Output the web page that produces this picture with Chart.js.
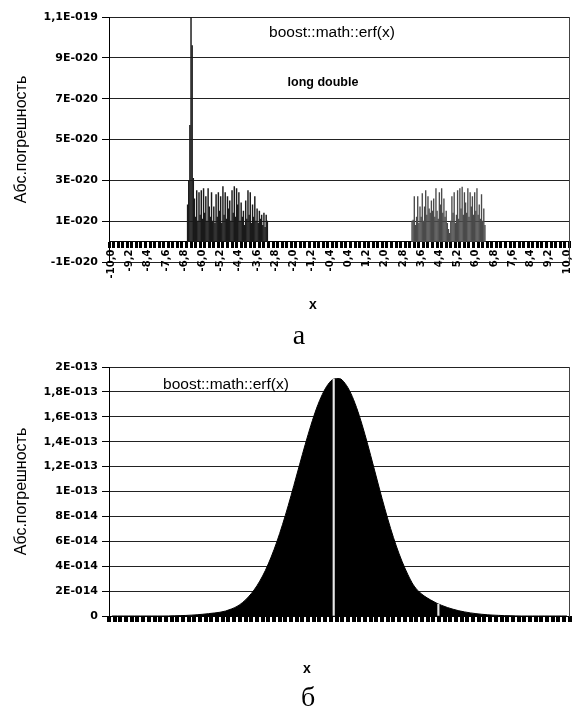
<!DOCTYPE html>
<html><head><meta charset="utf-8">
<script src="https://cdn.jsdelivr.net/npm/chart.js@4"></script>
<style>
html,body{margin:0;padding:0;background:#fff;}
body{width:581px;height:706px;position:relative;overflow:hidden;}
canvas{position:absolute;left:0;}
.t{position:absolute;white-space:nowrap;color:#000;transform:translateX(-50%);line-height:1;}
</style></head><body>
<canvas id="c1" width="581" height="330" style="top:0px"></canvas>
<canvas id="c2" width="581" height="356" style="top:350px"></canvas>
<div class="t" style="left:332px;top:23px;font:15.5px 'Liberation Sans'">boost::math::erf(x)</div>
<div class="t" style="left:323px;top:75px;font:bold 12.5px 'Liberation Sans'">long double</div>
<div class="t" style="left:313px;top:296px;font:bold 14px 'Liberation Sans'">x</div>
<div class="t" style="left:299px;top:319px;font:28px 'Liberation Serif'">а</div>
<div class="t" style="left:226px;top:375px;font:15.5px 'Liberation Sans'">boost::math::erf(x)</div>
<div class="t" style="left:307px;top:660px;font:bold 14px 'Liberation Sans'">x</div>
<div class="t" style="left:308px;top:681px;font:28px 'Liberation Serif'">б</div>
<script>
// ---------- Chart (а): long double, values in units of 1E-020 ----------
const topXTickLabels = ['-10,0','-9,2','-8,4','-7,6','-6,8','-6,0','-5,2','-4,4','-3,6','-2,8','-2,0','-1,2','-0,4','0,4','1,2','2,0','2,8','3,6','4,4','5,2','6,0','6,8','7,6','8,4','9,2','10,0'];
const topYTickLabels = ['-1E-020','1E-020','3E-020','5E-020','7E-020','9E-020','1,1E-019'];
const leftX = [-6.65,-6.60,-6.55,-6.50,-6.45,-6.40,-6.35,-6.30,-6.25,-6.20,-6.15,-6.10,-6.05,-6.00,-5.95,-5.90,-5.85,-5.80,-5.75,-5.70,-5.65,-5.60,-5.55,-5.50,-5.45,-5.40,-5.35,-5.30,-5.25,-5.20,-5.15,-5.10,-5.05,-5.00,-4.95,-4.90,-4.85,-4.80,-4.75,-4.70,-4.65,-4.60,-4.55,-4.50,-4.45,-4.40,-4.35,-4.30,-4.25,-4.20,-4.15,-4.10,-4.05,-4.00,-3.95,-3.90,-3.85,-3.80,-3.75,-3.70,-3.65,-3.60,-3.55,-3.50,-3.45,-3.40,-3.35,-3.30,-3.25,-3.20,-3.15];
const leftErr = [1.8,3.0,5.7,11.0,9.6,3.1,2.1,1.2,2.5,1.0,
  2.4,1.3,2.5,1.1,2.6,1.4,2.2,1.0,2.6,1.7,
  1.2,2.4,1.0,1.7,0.9,2.3,1.2,2.4,1.5,2.2,
  0.9,2.7,1.3,2.4,1.1,2.2,1.6,2.0,1.0,2.5,
  1.4,2.7,1.2,2.6,1.8,2.4,1.0,1.9,1.2,1.5,
  0.8,2.0,1.1,2.5,1.3,2.4,0.9,1.8,1.2,2.2,
  1.0,1.6,0.9,1.5,1.1,1.3,0.8,1.4,0.7,1.3,
  1.0];
const rightX = [3.20,3.25,3.30,3.35,3.40,3.45,3.50,3.55,3.60,3.65,3.70,3.75,3.80,3.85,3.90,3.95,4.00,4.05,4.10,4.15,4.20,4.25,4.30,4.35,4.40,4.45,4.50,4.55,4.60,4.65,4.70,4.75,4.80,4.85,4.90,4.95,5.00,5.05,5.10,5.15,5.20,5.25,5.30,5.35,5.40,5.45,5.50,5.55,5.60,5.65,5.70,5.75,5.80,5.85,5.90,5.95,6.00,6.05,6.10,6.15,6.20,6.25,6.30,6.35,6.40];
const rightErr = [1.0,1.05,2.2,0.8,1.2,2.2,0.9,1.7,1.2,2.35,
  1.0,1.7,2.5,1.3,2.2,1.6,1.4,2.0,1.5,2.1,
  1.2,2.6,1.5,1.1,2.4,1.8,2.6,1.4,2.1,1.2,
  1.5,0.9,0.6,0.4,1.0,2.2,1.4,2.4,0.9,1.3,
  2.5,1.1,2.6,1.6,2.67,1.3,2.4,1.9,1.4,2.6,
  1.2,2.4,1.7,2.2,1.3,2.4,1.5,2.6,1.3,1.8,
  1.1,2.3,1.0,1.6,0.8];

// ---------- Chart (б): values in units of 1E-014 ----------
const botXTickLabels = ['-4,0','-3,7','-3,4','-3,1','-2,8','-2,5','-2,2','-1,9','-1,6','-1,3','-1,0','-0,7','-0,4','-0,1','0,2','0,5','0,8','1,1','1,4','1,7','2,0','2,3','2,6','2,9','3,2','3,5','3,8'];
const botYTickLabels = ['0','2E-014','4E-014','6E-014','8E-014','1E-013','1,2E-013','1,4E-013','1,6E-013','1,8E-013','2E-013'];
const botX = [-4.0,-3.9,-3.8,-3.7,-3.6,-3.5,-3.4,-3.3,-3.2,-3.1,-3.0,-2.9,-2.8,-2.7,-2.6,-2.5,-2.4,-2.3,-2.2,-2.1,-2.0,-1.9,-1.8,-1.7,-1.6,-1.5,-1.4,-1.3,-1.2,-1.1,-1.0,-0.9,-0.8,-0.7,-0.6,-0.5,-0.4,-0.3,-0.2,-0.1,0.0,0.1,0.2,0.3,0.4,0.5,0.6,0.7,0.8,0.9,1.0,1.1,1.2,1.3,1.4,1.5,1.6,1.7,1.8,1.9,2.0,2.1,2.2,2.3,2.4,2.5,2.6,2.7,2.8,2.9,3.0,3.1,3.2,3.3,3.4,3.5,3.6,3.7,3.8,3.9,4.0];
const botErr = [0,0,0,0,0,0,0,0,0,0,0.005,
  0.015,0.03,0.045,0.07,0.10,0.14,0.19,0.24,0.30,0.40,
  0.56,0.77,1.09,1.53,2.09,2.80,3.67,4.73,5.95,7.34,
  8.86,10.49,12.15,13.79,15.33,16.7,17.8,18.6,19.03,19.07,
  18.68,17.9,16.76,15.35,13.74,12.02,10.28,8.60,7.03,5.62,
  4.40,3.36,2.50,1.95,1.58,1.30,1.05,0.85,0.68,0.54,
  0.42,0.33,0.25,0.19,0.14,0.10,0.07,0.05,0.03,0.02,
  0.01,0,0,0,0,0,0,0,0,0];
const gapX = [-0.1, 1.74];
const gapErr = [19.03, 0.96];

const FONT_TICK = {family: 'DejaVu Sans', weight: 'bold', size: 11};
const FONT_XTICK = {family: 'DejaVu Sans', weight: 'bold', size: 10};
const parseLbl = l => parseFloat(l.replace(',', '.'));

function bandTicks(labels, nSub, max) {
  return function(scale) {
    const majors = labels.map(parseLbl);
    const step = (majors[1] - majors[0]) / nSub;
    const t = [];
    for (let i = 0; i < majors.length; i++) {
      t.push({value: majors[i], txt: labels[i]});
      if (i < majors.length - 1) {
        for (let k = 1; k < nSub; k++) t.push({value: majors[i] + step * k});
      }
    }
    let v = majors[majors.length - 1] + step;
    while (v <= max + 1e-9) { t.push({value: v}); v += step; }
    scale.ticks = t;
  };
}

function xScale(labels, nSub, min, max, position, tickW) {
  return {
    type: 'linear', axis: 'x', position: position, min: min, max: max,
    afterBuildTicks: bandTicks(labels, nSub, max),
    afterFit: s => { s.height = 0; },
    grid: {display: true, drawOnChartArea: false, drawTicks: true, tickLength: 6,
           lineWidth: tickW, tickWidth: tickW, tickColor: '#000', color: '#000'},
    border: {display: true, color: '#000', width: 1},
    ticks: {autoSkip: false, minRotation: 90, maxRotation: 90, padding: 2,
            color: '#000', font: FONT_XTICK,
            callback: (v, i, ticks) => ticks[i].txt || ''}
  };
}

function yScale(labels, min, max, step) {
  return {
    type: 'linear', position: 'left', min: min, max: max,
    afterFit: s => { s.width = 109; },
    grid: {color: '#222', lineWidth: 1, tickLength: 7, tickColor: '#000'},
    border: {display: true, color: '#000', width: 1},
    ticks: {stepSize: step, padding: 4, color: '#000', font: FONT_TICK,
            callback: (v, i) => labels[i]},
    title: {display: true, text: 'Абс.погрешность', color: '#000',
            font: {family: 'Liberation Sans', size: 16}, padding: {top: 12, bottom: 0}}
  };
}

const rightBorder = {
  type: 'linear', position: 'right', display: true,
  afterFit: s => { s.width = 0; },
  grid: {display: false, drawOnChartArea: false, drawTicks: false},
  ticks: {display: false},
  border: {display: true, color: '#444', width: 1}
};

const common = {
  responsive: false, animation: false, devicePixelRatio: 1, events: [],
  plugins: {legend: {display: false}, tooltip: {enabled: false}, title: {display: false}}
};

new Chart(document.getElementById('c1'), {
  type: 'bar',
  data: {
    datasets: [
      {label: 'long double (x<0)', data: leftX.map((x, i) => ({x: x, y: leftErr[i]})),
       backgroundColor: '#1a1a1a', barThickness: 0.8, grouped: false, borderWidth: 0},
      {label: 'long double (x>0)', data: rightX.map((x, i) => ({x: x, y: rightErr[i]})),
       backgroundColor: '#4a4a4a', barThickness: 0.7, grouped: false, borderWidth: 0}
    ]
  },
  options: Object.assign({}, common, {
    layout: {padding: {top: 17, right: 8, bottom: 68, left: 0}},
    scales: {
      x: xScale(topXTickLabels, 4, -10, 10, {y: 0}, 3),
      y: yScale(topYTickLabels, -1, 11, 2),
      y2: rightBorder
    }
  })
});

new Chart(document.getElementById('c2'), {
  type: 'line',
  data: {
    datasets: [
      {type: 'bar', label: 'gaps', data: gapX.map((x, i) => ({x: x, y: gapErr[i]})),
       backgroundColor: '#e8e8e8', barThickness: 1.5, grouped: false, borderWidth: 0, order: 0},
      {type: 'line', label: 'double', data: botX.map((x, i) => ({x: x, y: botErr[i]})),
       borderColor: '#000', backgroundColor: '#000', borderWidth: 1, fill: 'origin',
       pointRadius: 0, cubicInterpolationMode: 'monotone', order: 1}
    ]
  },
  options: Object.assign({}, common, {
    layout: {padding: {top: 17, right: 8, bottom: 90, left: 0}},
    scales: {
      x: xScale(botXTickLabels, 3, -4, 4, 'bottom', 4),
      y: yScale(botYTickLabels, 0, 20, 2),
      y2: rightBorder
    }
  })
});
</script>
</body></html>
